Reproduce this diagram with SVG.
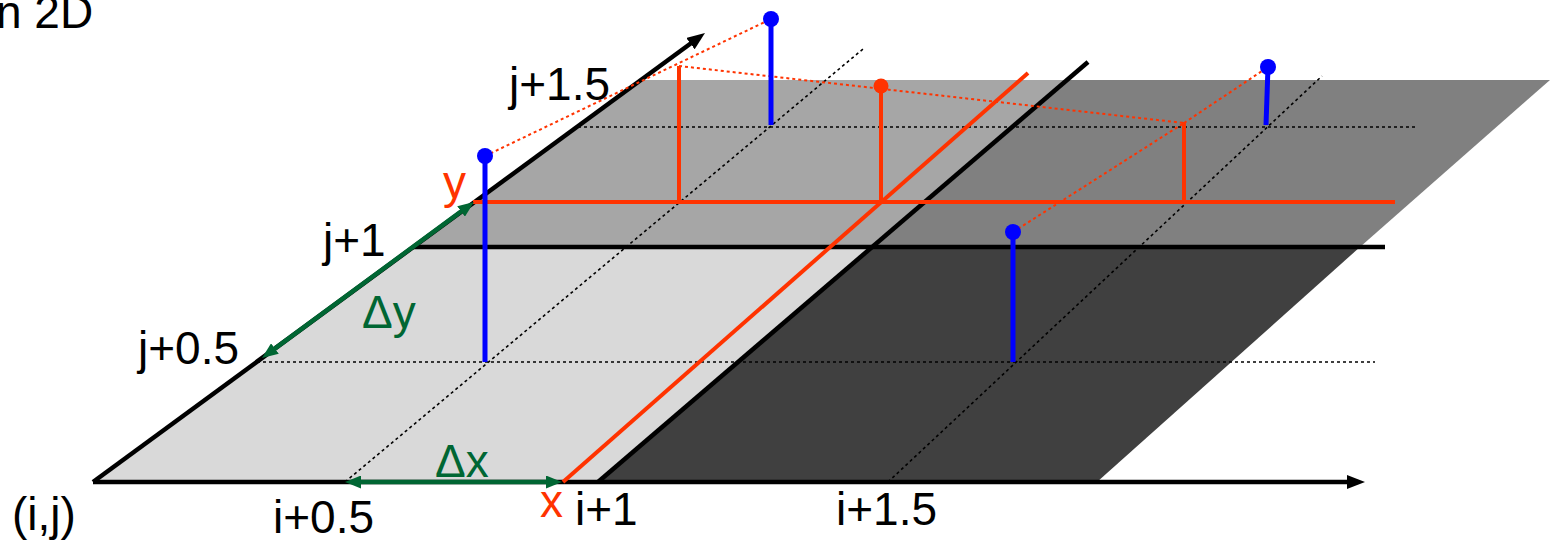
<svg xmlns="http://www.w3.org/2000/svg" width="1553" height="546" viewBox="0 0 1553 546">
<defs>
<style>
.lbl{font-family:"Liberation Sans",Arial,sans-serif;font-size:46px;fill:#000}
.red{fill:#ff3300}
.grn{fill:#006633}
.thick{stroke:#000;stroke-width:4.5;fill:none}
.dot{stroke:#000;stroke-width:1.6;stroke-dasharray:3 3;fill:none}
.rdot{stroke:#ff3300;stroke-width:2;stroke-dasharray:3 3;fill:none}
.rline{stroke:#ff3300;stroke-width:4;fill:none}
.bstem{stroke:#0000ff;stroke-width:5;fill:none}
.gline{stroke:#006633;stroke-width:4.5;fill:none}
</style>
<marker id="ah" viewBox="0 0 18 14" refX="4" refY="7" markerWidth="18" markerHeight="14" markerUnits="userSpaceOnUse" orient="auto">
<path d="M0,0 L18,7 L0,14 z" fill="#000"/>
</marker>
<marker id="gh" viewBox="0 0 16 13" refX="4" refY="6.5" markerWidth="16" markerHeight="13" markerUnits="userSpaceOnUse" orient="auto-start-reverse">
<path d="M0,0 L16,6.5 L0,13 z" fill="#006633"/>
</marker>
</defs>
<g id="cells">
<polygon points="93,482 598,482 872,247 413,247" fill="#d9d9d9"/>
<polygon points="598,482 1097,482 1360,247 872,247" fill="#404040"/>
<polygon points="413,247 872,247 1067,80 640,80" fill="#a6a6a6"/>
<polygon points="872,247 1360,247 1550,80 1067,80" fill="#808080"/>
</g>
<g id="grid">
<line class="dot" x1="257" y1="362" x2="1375" y2="362"/>
<line class="dot" x1="578" y1="127" x2="1415" y2="127"/>
<line class="dot" x1="345" y1="482" x2="863" y2="49"/>
<line class="dot" x1="888" y1="482" x2="1322" y2="76"/>
</g>
<g id="axes">
<line class="thick" x1="93" y1="482" x2="1351" y2="482" marker-end="url(#ah)"/>
<line class="thick" x1="93" y1="482" x2="693.7" y2="41.3" marker-end="url(#ah)"/>
<line class="thick" x1="413" y1="247" x2="1385" y2="247"/>
<line class="thick" x1="598" y1="482" x2="1088" y2="62"/>
</g>
<g id="red-lines">
<line class="rline" x1="473" y1="202" x2="1395" y2="202"/>
<line class="rline" x1="563" y1="482" x2="1028" y2="73"/>
<line class="rline" x1="679" y1="202" x2="679" y2="66"/>
<line class="rline" x1="881" y1="202" x2="881" y2="86"/>
<line class="rline" x1="1184" y1="202" x2="1184" y2="122"/>
<circle cx="881" cy="86" r="7.5" fill="#ff3300"/>
</g>
<g id="interp">
<line class="rdot" x1="485" y1="156" x2="771" y2="19"/>
<line class="rdot" x1="679" y1="66" x2="1184" y2="123"/>
<line class="rdot" x1="1184" y1="123" x2="1268" y2="67"/>
<line class="rdot" x1="1013" y1="232" x2="1184" y2="123"/>
</g>
<g id="samples">
<line class="bstem" x1="485" y1="362" x2="485" y2="156"/>
<circle cx="485" cy="156" r="8" fill="#0000ff"/>
<line class="bstem" x1="771" y1="125" x2="771" y2="19"/>
<circle cx="771" cy="19" r="8" fill="#0000ff"/>
<line class="bstem" x1="1013" y1="362" x2="1013" y2="232"/>
<circle cx="1013" cy="232" r="8" fill="#0000ff"/>
<line class="bstem" x1="1266" y1="125" x2="1268" y2="67"/>
<circle cx="1268" cy="67" r="8" fill="#0000ff"/>
</g>
<g id="deltas">
<line class="gline" x1="464.3" y1="209.1" x2="271.7" y2="350.9" marker-start="url(#gh)" marker-end="url(#gh)"/>
<line class="gline" x1="357" y1="482" x2="550" y2="482" marker-start="url(#gh)" marker-end="url(#gh)"/>
</g>
<g id="labels">
<text class="lbl" x="-4" y="28">n 2D</text>
<text class="lbl" x="509" y="100">j+1.5</text>
<text class="lbl red" x="443" y="198">y</text>
<text class="lbl" x="323" y="256">j+1</text>
<text class="lbl grn" x="362" y="328">Δy</text>
<text class="lbl" x="138" y="364">j+0.5</text>
<text class="lbl grn" x="435" y="477">Δx</text>
<text class="lbl" x="12" y="530">(i,j)</text>
<text class="lbl" x="273" y="533">i+0.5</text>
<text class="lbl red" x="540" y="517">x</text>
<text class="lbl" x="575" y="525">i+1</text>
<text class="lbl" x="836" y="525">i+1.5</text>
</g>
</svg>
